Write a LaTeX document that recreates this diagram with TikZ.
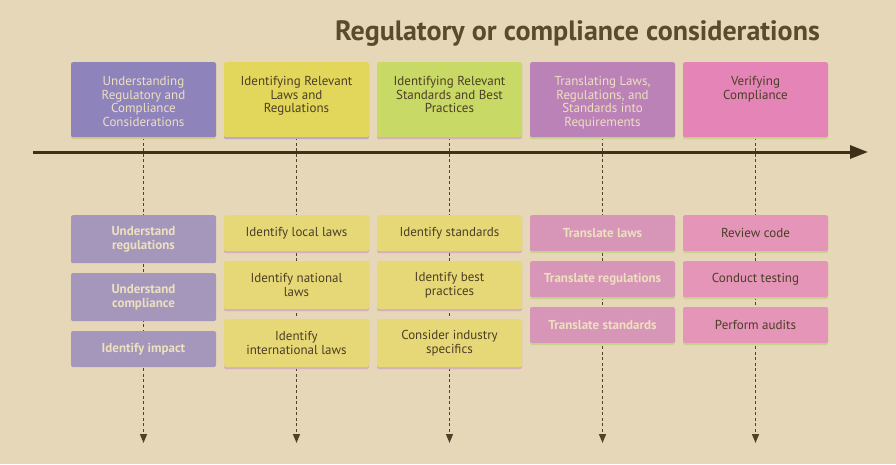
\documentclass[tikz,border=0pt]{standalone}
\usepackage{fontspec}
\setmainfont{PT Sans}
\usetikzlibrary{positioning,arrows.meta,shadows,backgrounds}

\definecolor{bgcol}{HTML}{E5D7B8}
\definecolor{titlecol}{HTML}{5B4A2B}
\definecolor{darktxt}{HTML}{4B3E26}
\definecolor{lighttxt}{HTML}{EDE0BE}
\definecolor{axiscol}{HTML}{3F3019}
\definecolor{hpurple}{HTML}{8F83BC}
\definecolor{hyellow}{HTML}{E3D75B}
\definecolor{hgreen}{HTML}{C9D966}
\definecolor{hmauve}{HTML}{BB82B7}
\definecolor{hpink}{HTML}{E584B6}
\definecolor{spurple}{HTML}{A497BB}
\definecolor{syellow}{HTML}{E6D876}
\definecolor{smauve}{HTML}{D796B8}
\definecolor{spink}{HTML}{E495B8}
\definecolor{stripkhaki}{HTML}{D8C987}
\definecolor{striplav}{HTML}{B9A6C9}
\definecolor{striprose}{HTML}{D5AFC0}
\definecolor{stripgreen}{HTML}{C8D48E}

\begin{document}
\begin{tikzpicture}[x=1pt,y=-1pt,
    box/.style={rectangle, rounded corners=2pt, inner sep=0pt, minimum width=145pt, anchor=north},
    hdr/.style={box, minimum height=75pt},
    hdrtxt/.style={align=center, inner sep=0pt, anchor=north, font=\fontsize{13}{13.5}\selectfont},
    sub/.style={box, minimum height=36pt, align=center, font=\fontsize{13}{13.5}\selectfont},
    tall/.style={minimum height=48pt},
    strip/.style={general shadow={fill=#1, shadow xshift=0pt, shadow yshift=-2pt}},
    light/.style={text=lighttxt, font=\bfseries\fontsize{13}{13.5}\selectfont},
    dashline/.style={axiscol!90!bgcol, line width=1.5pt, dash pattern=on 3pt off 2.5pt, -{Triangle[width=7pt,length=9pt]}},
    node distance=9.5pt]

    \useasboundingbox (0,0) rectangle (896,464);

    % title
    \node[anchor=base, text=titlecol, font=\bfseries\fontsize{28}{32}\selectfont] (title) at (577.5,40) {Regulatory or compliance considerations};

    % phases
    \node[hdr, fill=hpurple, strip=stripkhaki] (h1) at (143.5,62) {};
    \node[hdr, fill=hyellow, strip=striplav] (h2) at (296.5,62) {};
    \node[hdr, fill=hgreen, strip=striprose] (h3) at (449.5,62) {};
    \node[hdr, fill=hmauve, strip=stripgreen] (h4) at (602.5,62) {};
    \node[hdr, fill=hpink, strip=stripgreen] (h5) at (755.5,62) {};

    \node[hdrtxt, text=lighttxt] (h1t) at (143.5,76.5) {Understanding\\Regulatory and\\Compliance\\Considerations};
    \node[hdrtxt, text=darktxt] (h2t) at (296.5,76.5) {Identifying Relevant\\Laws and\\Regulations};
    \node[hdrtxt, text=darktxt] (h3t) at (449.5,76.5) {Identifying Relevant\\Standards and Best\\Practices};
    \node[hdrtxt, text=lighttxt] (h4t) at (602.5,76.5) {Translating Laws,\\Regulations, and\\Standards into\\Requirements};
    \node[hdrtxt, text=darktxt] (h5t) at (755.5,76.5) {Verifying\\Compliance};

    % tasks
    \node[sub, tall, fill=spurple, light] (s11) at (143.5,215) {Understand\\regulations};
    \node[sub, tall, fill=spurple, light, below=of s11] (s12) {Understand\\compliance};
    \node[sub, fill=spurple, light, below=of s12] (s13) {Identify impact};

    \node[sub, fill=syellow, text=darktxt, strip=striprose] (s21) at (296.5,215) {Identify local laws};
    \node[sub, tall, fill=syellow, text=darktxt, strip=striprose, below=of s21] (s22) {Identify national\\laws};
    \node[sub, tall, fill=syellow, text=darktxt, strip=striprose, below=of s22] (s23) {Identify\\international laws};

    \node[sub, fill=syellow, text=darktxt, strip=striprose] (s31) at (449.5,215) {Identify standards};
    \node[sub, tall, fill=syellow, text=darktxt, strip=striprose, below=of s31] (s32) {Identify best\\practices};
    \node[sub, tall, fill=syellow, text=darktxt, strip=striprose, below=of s32] (s33) {Consider industry\\specifics};

    \node[sub, fill=smauve, light, strip=stripgreen] (s41) at (602.5,215) {Translate laws};
    \node[sub, fill=smauve, light, strip=stripgreen, below=of s41] (s42) {Translate regulations};
    \node[sub, fill=smauve, light, strip=stripgreen, below=of s42] (s43) {Translate standards};

    \node[sub, fill=spink, text=darktxt, strip=stripgreen] (s51) at (755.5,215) {Review code};
    \node[sub, fill=spink, text=darktxt, strip=stripgreen, below=of s51] (s52) {Conduct testing};
    \node[sub, fill=spink, text=darktxt, strip=stripgreen, below=of s52] (s53) {Perform audits};

    \coordinate (e1) at (143.5,443);
    \coordinate (e2) at (296.5,443);
    \coordinate (e3) at (449.5,443);
    \coordinate (e4) at (602.5,443);
    \coordinate (e5) at (755.5,443);

    \begin{scope}[on background layer]
        \fill[bgcol] (0,0) rectangle (896,464);
        \draw[dashline] (h1.south) -- (e1);
        \draw[dashline] (h2.south) -- (e2);
        \draw[dashline] (h3.south) -- (e3);
        \draw[dashline] (h4.south) -- (e4);
        \draw[dashline] (h5.south) -- (e5);
    \end{scope}

    % time axis
    \coordinate (ax0) at (33,152);
    \coordinate (ax1) at (868,152);
    \draw[axiscol, line width=3pt, -{Triangle[width=13pt,length=18pt]}] (ax0) -- (ax1);
\end{tikzpicture}
\end{document}
